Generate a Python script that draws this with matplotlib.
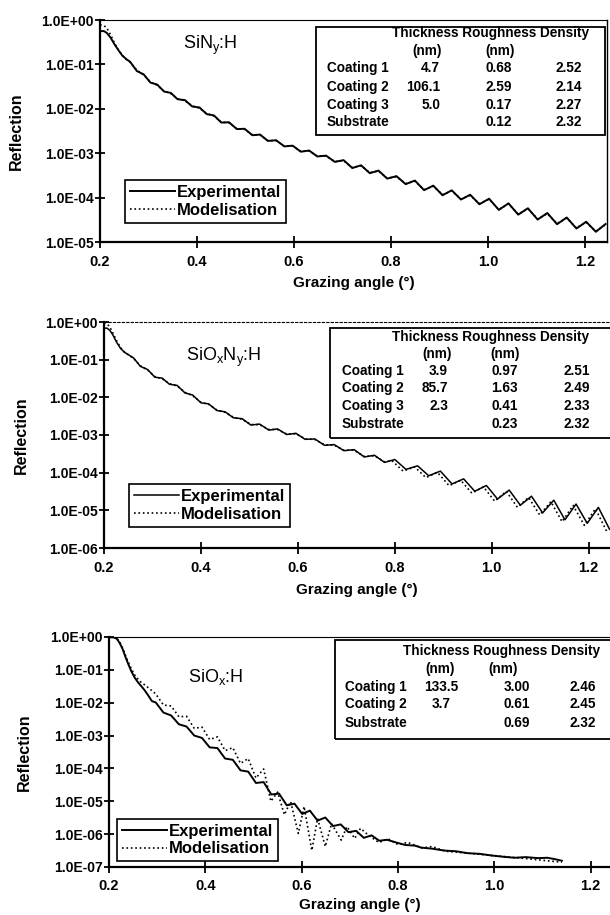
import numpy as np
import matplotlib
matplotlib.use('Agg')
import matplotlib.pyplot as plt
from matplotlib.ticker import FuncFormatter, LogLocator, NullLocator, FixedLocator
from matplotlib.patches import Rectangle

plt.rcParams['font.family'] = ['Liberation Sans', 'DejaVu Sans']
plt.rcParams['font.weight'] = 'bold'
plt.rcParams['mathtext.fontset'] = 'custom'
plt.rcParams['mathtext.rm'] = 'Liberation Sans:weight=normal'
plt.rcParams['mathtext.it'] = 'Liberation Sans:weight=normal'

# ---- SiNy:H (top panel) ----
sin_x_exp = [0.200, 0.208, 0.214, 0.222, 0.230, 0.238, 0.246, 0.254,
             0.262, 0.276, 0.290, 0.304, 0.318, 0.332, 0.346, 0.360, 0.375, 0.390, 0.405, 0.420, 0.435, 0.450,
             0.466, 0.482, 0.498, 0.514, 0.530, 0.546, 0.563, 0.580, 0.597, 0.614, 0.631, 0.648, 0.666, 0.684,
             0.702, 0.720, 0.738, 0.756, 0.774, 0.792, 0.811, 0.830, 0.849, 0.868, 0.887, 0.906, 0.925, 0.944,
             0.963, 0.982,
             1.002, 1.022, 1.042, 1.062, 1.082, 1.102, 1.122, 1.142, 1.162, 1.182, 1.202, 1.222, 1.242]
sin_r_exp = [5.62e-1, 5.62e-1, 5.13e-1, 3.98e-1, 2.82e-1, 2.09e-1, 1.58e-1, 1.32e-1,
             1.15e-1, 7.08e-2, 5.96e-2, 3.89e-2, 3.51e-2, 2.45e-2, 2.28e-2, 1.64e-2, 1.57e-2, 1.13e-2, 1.07e-2,
             7.59e-3, 7.08e-3, 4.90e-3,
             4.97e-3, 3.49e-3, 3.55e-3, 2.54e-3, 2.63e-3, 1.89e-3, 1.96e-3, 1.42e-3, 1.48e-3, 1.08e-3, 1.15e-3,
             8.43e-4, 8.83e-4, 6.37e-4,
             6.98e-4, 4.63e-4, 5.35e-4, 3.55e-4, 4.06e-4, 2.67e-4, 3.05e-4, 2.01e-4, 2.42e-4, 1.47e-4, 1.86e-4,
             1.13e-4, 1.46e-4, 9.04e-5, 1.16e-4, 7.08e-5,
             9.44e-5, 5.28e-5, 7.43e-5, 4.13e-5, 5.75e-5, 3.20e-5, 4.50e-5, 2.52e-5, 3.56e-5, 2.01e-5, 2.86e-5,
             1.70e-5, 2.54e-5]
sin_x_mod = sin_x_exp
sin_r_mod = [7.8e-1, 7.5e-1, 6.6e-1, 4.6e-1, 3.0e-1, 2.1e-1, 1.6e-1, 1.3e-1,
             1.12e-1, 7.4e-2, 5.8e-2, 4.0e-2, 3.4e-2, 2.5e-2, 2.2e-2, 1.68e-2, 1.52e-2, 1.16e-2, 1.04e-2,
             7.8e-3, 6.9e-3, 5.0e-3,
             4.85e-3, 3.55e-3, 3.45e-3, 2.6e-3, 2.55e-3, 1.93e-3, 1.9e-3, 1.45e-3, 1.44e-3, 1.1e-3, 1.12e-3,
             8.6e-4, 8.6e-4, 6.5e-4,
             6.8e-4, 4.75e-4, 5.2e-4, 3.65e-4, 3.95e-4, 2.75e-4, 2.95e-4, 2.07e-4, 2.35e-4, 1.52e-4, 1.8e-4,
             1.17e-4, 1.42e-4, 9.3e-5, 1.12e-4, 7.3e-5,
             9.2e-5, 5.4e-5, 7.2e-5, 4.25e-5, 5.6e-5, 3.3e-5, 4.35e-5, 2.6e-5, 3.45e-5, 2.08e-5, 2.78e-5,
             1.75e-5, 2.45e-5]

# ---- SiOxNy:H (middle panel) ----
sion_x_exp = [0.200, 0.206, 0.212, 0.218, 0.226, 0.234, 0.242,
              0.261, 0.275, 0.290, 0.305, 0.320, 0.335, 0.351, 0.367, 0.383, 0.400, 0.416, 0.433, 0.450, 0.467,
              0.485, 0.503, 0.521, 0.540, 0.558, 0.577, 0.596, 0.615, 0.635, 0.655, 0.675, 0.695, 0.716, 0.737,
              0.758, 0.779,
              0.800, 0.823, 0.847, 0.870, 0.894, 0.918, 0.942, 0.965, 0.989, 1.012, 1.036, 1.059, 1.082, 1.105,
              1.128, 1.151, 1.174, 1.197, 1.220, 1.243]
sion_r_exp = [6.8e-1, 6.9e-1, 6.0e-1, 4.6e-1, 2.9e-1, 2.0e-1, 1.58e-1,
              1.11e-1, 6.65e-2, 5.47e-2, 3.42e-2, 3.24e-2, 2.23e-2, 2.07e-2, 1.31e-2, 1.15e-2, 7.16e-3, 6.70e-3,
              4.47e-3, 4.12e-3, 2.86e-3, 2.71e-3, 1.84e-3, 1.95e-3, 1.35e-3, 1.45e-3, 1.03e-3, 1.11e-3, 7.67e-4,
              7.85e-4, 5.33e-4, 5.56e-4, 3.83e-4, 4.09e-4, 2.61e-4, 2.90e-4, 1.87e-4,
              2.24e-4, 1.22e-4, 1.52e-4, 8.28e-5, 1.10e-4, 5.02e-5, 6.84e-5, 3.21e-5, 4.57e-5, 1.99e-5, 3.45e-5,
              1.37e-5, 2.37e-5, 8.55e-6, 1.86e-5, 5.61e-6, 1.47e-5, 4.51e-6, 1.20e-5, 3.16e-6]
sion_x_mod = [0.200, 0.206, 0.212, 0.218, 0.226, 0.234, 0.242,
              0.261, 0.275, 0.290, 0.305, 0.320, 0.335, 0.351, 0.367, 0.383, 0.400, 0.416, 0.433, 0.450, 0.467,
              0.485, 0.503, 0.521, 0.540, 0.558, 0.577, 0.596, 0.615, 0.635, 0.655, 0.675, 0.695, 0.716, 0.737,
              0.758, 0.779,
              0.794, 0.817, 0.841, 0.864, 0.888, 0.912, 0.936, 0.959, 0.983, 1.006, 1.030, 1.053, 1.076, 1.099,
              1.122, 1.145, 1.168, 1.191, 1.214, 1.237]
sion_r_mod = [9.5e-1, 9.0e-1, 7.4e-1, 5.2e-1, 3.2e-1, 2.1e-1, 1.6e-1,
              1.08e-1, 6.9e-2, 5.3e-2, 3.55e-2, 3.1e-2, 2.3e-2, 2.0e-2, 1.36e-2, 1.1e-2, 7.4e-3, 6.5e-3,
              4.6e-3, 4.0e-3, 2.95e-3, 2.62e-3, 1.9e-3, 1.88e-3, 1.4e-3, 1.4e-3, 1.06e-3, 1.07e-3, 7.9e-4,
              7.6e-4, 5.5e-4, 5.35e-4, 3.95e-4, 3.95e-4, 2.7e-4, 2.8e-4, 1.92e-4,
              2.1e-4, 1.10e-4, 1.42e-4, 7.4e-5, 1.02e-4, 4.5e-5, 6.3e-5, 2.85e-5, 4.2e-5, 1.75e-5, 3.2e-5,
              1.2e-5, 2.2e-5, 7.5e-6, 1.7e-5, 5.0e-6, 1.35e-5, 4.0e-6, 1.1e-5, 2.8e-6]

# ---- SiOx:H (bottom panel) ----
sio_x_exp = [0.200, 0.210, 0.216, 0.222, 0.228, 0.234, 0.240, 0.246, 0.253, 0.260, 0.267, 0.273, 0.281,
             0.289, 0.297,
             0.313, 0.329, 0.345, 0.361, 0.377, 0.393, 0.409, 0.425, 0.441, 0.457, 0.473, 0.489, 0.505, 0.521,
             0.537, 0.553, 0.569, 0.585, 0.601, 0.617, 0.633, 0.649, 0.665, 0.681, 0.697, 0.713, 0.729, 0.745,
             0.761, 0.777,
             0.800, 0.815, 0.835, 0.848, 0.870, 0.896, 0.920, 0.945, 0.970, 0.994, 1.020, 1.042, 1.065, 1.091,
             1.110, 1.125, 1.140]
sio_r_exp = [9.8e-1, 9.7e-1, 8.9e-1, 6.6e-1, 4.4e-1, 2.5e-1, 1.5e-1, 9.3e-2, 5.9e-2, 4.2e-2, 3.2e-2, 2.5e-2,
             1.7e-2, 1.12e-2, 1.02e-2,
             5.01e-3, 4.09e-3, 2.21e-3, 1.88e-3, 1.00e-3, 8.47e-4, 4.37e-4, 4.17e-4, 2.00e-4, 1.83e-4, 8.75e-5,
             7.98e-5, 3.61e-5, 3.83e-5, 1.61e-5, 1.71e-5, 7.55e-6, 8.47e-6, 4.12e-6, 5.19e-6, 2.58e-6, 3.21e-6,
             1.76e-6, 1.98e-6, 1.15e-6, 1.26e-6, 7.71e-7, 9.20e-7, 6.30e-7, 6.75e-7,
             5.37e-7, 4.68e-7, 4.47e-7, 3.89e-7, 3.63e-7, 3.16e-7, 3.02e-7, 2.63e-7, 2.51e-7, 2.24e-7, 2.04e-7,
             1.91e-7, 2.00e-7, 1.86e-7, 1.91e-7, 1.74e-7, 1.55e-7]
sio_x_mod = [0.200, 0.212, 0.218, 0.224, 0.230, 0.238, 0.246, 0.255, 0.265, 0.275, 0.281,
             0.297, 0.313, 0.329, 0.345, 0.361, 0.377, 0.393, 0.409, 0.425, 0.441, 0.457, 0.473, 0.489, 0.505,
             0.521,
             0.536, 0.550, 0.564, 0.577, 0.593, 0.605, 0.621, 0.633, 0.649, 0.662, 0.682, 0.694, 0.710, 0.722,
             0.740, 0.760, 0.780, 0.800, 0.820, 0.850, 0.870, 0.900, 0.950, 1.000, 1.050, 1.100, 1.140]
sio_r_mod = [1.0e0, 1.0e0, 8.5e-1, 6.3e-1, 4.0e-1, 2.0e-1, 1.1e-1, 6.3e-2, 4.4e-2, 3.4e-2, 2.9e-2,
             1.86e-2, 8.5e-3, 7.98e-3, 3.75e-3, 3.84e-3, 1.66e-3, 1.81e-3, 7.59e-4, 9.12e-4, 3.48e-4, 4.29e-4,
             1.42e-4, 2.0e-4, 5.1e-5, 9.6e-5,
             1.0e-5, 1.9e-5, 3.9e-6, 9.8e-6, 1.05e-6, 6.9e-6, 3.2e-7, 3.0e-6, 4.2e-7, 2.1e-6, 6.6e-7, 1.7e-6,
             7.4e-7, 1.5e-6,
             8.9e-7, 5.6e-7, 7.1e-7, 4.8e-7, 5.6e-7, 3.8e-7, 4.2e-7, 3.0e-7, 2.6e-7, 2.2e-7, 1.9e-7, 1.6e-7,
             1.4e-7]

# ---- fitted layer tables ----
sin_layers = ['Coating 1', 'Coating 2', 'Coating 3', 'Substrate']
sin_thick = ['4.7', '106.1', '5.0', '']
sin_rough = ['0.68', '2.59', '0.17', '0.12']
sin_dens = ['2.52', '2.14', '2.27', '2.32']

sion_layers = ['Coating 1', 'Coating 2', 'Coating 3', 'Substrate']
sion_thick = ['3.9', '85.7', '2.3', '']
sion_rough = ['0.97', '1.63', '0.41', '0.23']
sion_dens = ['2.51', '2.49', '2.33', '2.32']

sio_layers = ['Coating 1', 'Coating 2', 'Substrate']
sio_thick = ['133.5', '3.7', '']
sio_rough = ['3.00', '0.61', '0.69']
sio_dens = ['2.46', '2.45', '2.32']

W, H = 610, 915
fig = plt.figure(figsize=(W / 100, H / 100), dpi=100)


def fx(px):
    return px / W


def fy(py):
    return 1 - py / H


def panel(box, ymin, xmax, top_style='-'):
    left, top, right, bottom = box
    ax = fig.add_axes([fx(left), fy(bottom), (right - left) / W, (bottom - top) / H])
    ax.set_yscale('log')
    ax.set_ylim(ymin, 1.0)
    ax.set_xlim(0.2, xmax)
    ax.yaxis.set_major_locator(LogLocator(base=10, numticks=12))
    ax.yaxis.set_minor_locator(NullLocator())
    ax.yaxis.set_major_formatter(FuncFormatter(lambda v, p: f'{v:.1E}'))
    ax.xaxis.set_major_locator(FixedLocator([0.2, 0.4, 0.6, 0.8, 1.0, 1.2]))
    ax.xaxis.set_major_formatter(FuncFormatter(lambda v, p: f'{v:.1f}'))
    ax.tick_params(axis='y', direction='inout', length=7, width=1.3, pad=1, labelsize=10)
    ax.tick_params(axis='x', direction='inout', length=8, width=1.3, pad=5, labelsize=10.5)
    for lab in ax.get_xticklabels() + ax.get_yticklabels():
        lab.set_fontweight('bold')
    ax.spines['left'].set_linewidth(1.6)
    ax.spines['bottom'].set_linewidth(1.6)
    ax.spines['top'].set_linewidth(0.8)
    ax.spines['top'].set_linestyle(top_style)
    ax.spines['right'].set_linewidth(1.0)
    ax.set_xlabel('Grazing angle (°)', fontsize=11, fontweight='bold')
    ax.set_ylabel('Reflection', fontsize=11.5, fontweight='bold')
    return ax


def draw_table(box, head, nm_x, nm_y, lab_x, rows_y, col_x, layers, thick, rough, dens, thick_ha='right'):
    l, t, r, b = box
    fig.patches.append(Rectangle((fx(l), fy(b)), (r - l) / W, (b - t) / H, transform=fig.transFigure,
                                 fill=False, ec='k', lw=1.3))
    kw = dict(fontsize=9.8, fontweight='bold', va='center')
    fig.text(fx(head[0]), fy(head[1]), 'Thickness Roughness Density', ha='left', **kw)
    for xx in nm_x:
        fig.text(fx(xx), fy(nm_y), '(nm)', ha='center', **kw)
    for i, yy in enumerate(rows_y):
        fig.text(fx(lab_x), fy(yy), layers[i], ha='left', **kw)
        fig.text(fx(col_x[0]), fy(yy), thick[i], ha=thick_ha, **kw)
        fig.text(fx(col_x[1]), fy(yy), rough[i], ha='right', **kw)
        fig.text(fx(col_x[2]), fy(yy), dens[i], ha='right', **kw)


def add_legend(ax, anchor):
    leg = ax.legend(loc='upper left', bbox_to_anchor=anchor, borderaxespad=0, fancybox=False,
                    edgecolor='k', framealpha=1, handlelength=2.7, handletextpad=0.1,
                    borderpad=0.3, labelspacing=0.15, prop=dict(weight='bold', size=12))
    leg.get_frame().set_linewidth(1.2)


# top panel
ax1 = panel((100, 20, 607, 242), 1e-5, 1.245)
ax1.plot(sin_x_exp, sin_r_exp, 'k-', lw=1.4, label='Experimental')
ax1.plot(sin_x_mod, sin_r_mod, 'k:', lw=1.2, label='Modelisation')
ax1.xaxis.set_label_coords(0.5, -0.153)
ax1.yaxis.set_label_coords(-0.15, 0.5)
add_legend(ax1, (0.050, 0.279))
fig.text(fx(183), fy(45), 'SiN$_y$:H', fontsize=13, fontweight='normal', va='center')
draw_table((316, 27, 605, 135), (392, 33), (427, 500), 51, 327, (68, 87, 105, 122), (440, 512, 582),
           sin_layers, sin_thick, sin_rough, sin_dens)

# middle panel
ax2 = panel((104, 322, 610, 548), 1e-6, 1.244, top_style=(0, (2, 2)))
ax2.spines['right'].set_visible(False)
ax2.plot(sion_x_exp, sion_r_exp, 'k-', lw=1.1, label='Experimental')
ax2.plot(sion_x_mod, sion_r_mod, 'k:', lw=1.2, label='Modelisation')
ax2.xaxis.set_label_coords(0.5, -0.155)
ax2.yaxis.set_label_coords(-0.148, 0.5)
add_legend(ax2, (0.049, 0.283))
fig.text(fx(186), fy(357), 'SiO$_x$N$_y$:H', fontsize=13, fontweight='normal', va='center')
draw_table((330, 328, 612, 438), (392, 337), (437, 505), 354, 342, (371, 388, 406, 424), (448, 518, 590),
           sion_layers, sion_thick, sion_rough, sion_dens)

# bottom panel
ax3 = panel((109, 637, 610, 867), 1e-7, 1.24)
ax3.spines['right'].set_visible(False)
ax3.plot(sio_x_exp, sio_r_exp, 'k-', lw=1.4, label='Experimental')
ax3.plot(sio_x_mod, sio_r_mod, 'k:', lw=1.2, label='Modelisation')
ax3.xaxis.set_label_coords(0.5, -0.135)
ax3.yaxis.set_label_coords(-0.154, 0.5)
add_legend(ax3, (0.016, 0.209))
fig.text(fx(188), fy(677), 'SiO$_x$:H', fontsize=13, fontweight='normal', va='center')
draw_table((335, 640, 612, 739), (403, 651), (440, 503), 669, 345, (687, 704, 723), (441, 530, 596),
           sio_layers, sio_thick, sio_rough, sio_dens, thick_ha='center')

fig.savefig('out.png', dpi=100)
